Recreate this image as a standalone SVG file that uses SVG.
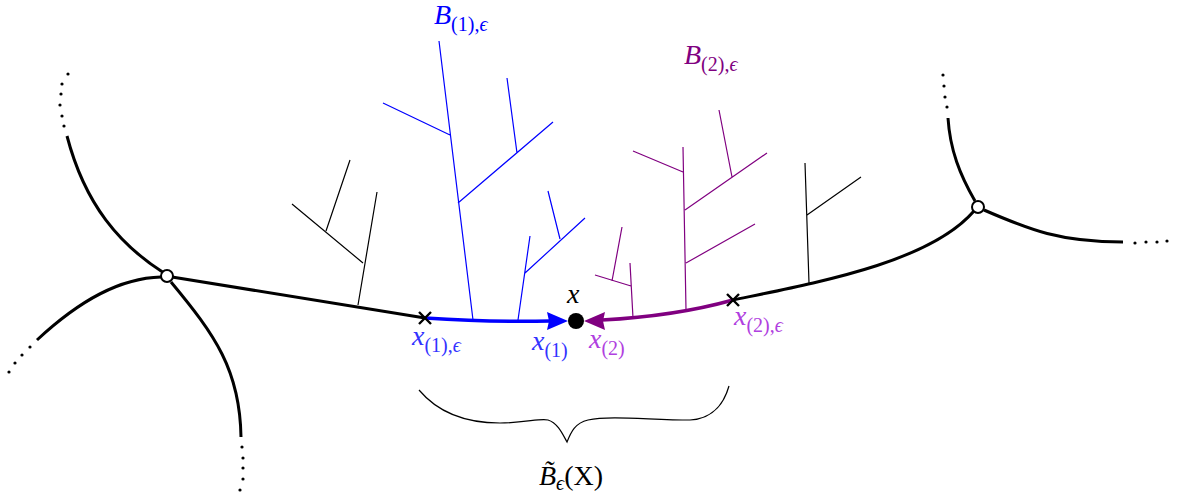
<svg xmlns="http://www.w3.org/2000/svg" width="1181" height="499" viewBox="0 0 1181 499">
<style>
.thick{fill:none;stroke:#000;stroke-width:3;stroke-linecap:butt}
.thin{fill:none;stroke-width:1.2}
.tb{stroke:#000}
.tbl{stroke:#0000ff}
.tv{stroke:#800080}
.dot{fill:#000}
text{font-family:"Liberation Serif","DejaVu Serif",serif}
.m{font-style:italic}
.r{font-style:normal}
.cross{stroke:#000;stroke-width:2.4}
</style>
<rect width="1181" height="499" fill="#fff"/>
<g id="connectors">
<path class="thick" d="M164,273 C120,245 85,205 67,136"/>
<path class="thick" d="M161,277 C120,278 80,300 37,340"/>
<path class="thick" d="M171,282 C215,335 240,370 241,437"/>
<path class="thick" d="M172,277 L425,318"/>
<path class="thick" d="M733,300 C820,282 930,262 974,211"/>
<path class="thick" d="M975,201 C960,175 950,150 948,118"/>
<path class="thick" d="M984,210 C1030,230 1060,242 1123,242"/>
<path fill="none" stroke="#0000ff" stroke-width="3.5" d="M425,318 C470,321 510,322 550,321"/>
<polygon fill="#0000ff" points="568,321 547,312 549,321 547,330"/>
<path fill="none" stroke="#800080" stroke-width="3.5" d="M733,300 C690,312 640,318 602,320"/>
<polygon fill="#800080" points="584,321 605,312 603,321 605,330"/>
</g>
<g id="dots">
<circle class="dot" cx="68" cy="74" r="1.6"/><circle class="dot" cx="62" cy="84" r="1.6"/><circle class="dot" cx="61" cy="94" r="1.6"/><circle class="dot" cx="60" cy="105" r="1.6"/><circle class="dot" cx="62" cy="116" r="1.6"/><circle class="dot" cx="64" cy="126" r="1.6"/>
<circle class="dot" cx="30" cy="347" r="1.6"/><circle class="dot" cx="22" cy="355" r="1.6"/><circle class="dot" cx="15" cy="363" r="1.6"/><circle class="dot" cx="9" cy="372" r="1.6"/>
<circle class="dot" cx="242" cy="447" r="1.6"/><circle class="dot" cx="243" cy="458" r="1.6"/><circle class="dot" cx="243" cy="468" r="1.6"/><circle class="dot" cx="243" cy="479" r="1.6"/><circle class="dot" cx="240" cy="490" r="1.6"/>
<circle class="dot" cx="943" cy="75" r="1.6"/><circle class="dot" cx="944" cy="86" r="1.6"/><circle class="dot" cx="945" cy="97" r="1.6"/><circle class="dot" cx="947" cy="107" r="1.6"/>
<circle class="dot" cx="1135" cy="243" r="1.6"/><circle class="dot" cx="1146" cy="242" r="1.6"/><circle class="dot" cx="1157" cy="242" r="1.6"/><circle class="dot" cx="1167" cy="241" r="1.6"/>
</g>
<g id="tree-black-left" class="thin tb">
<path d="M358,305 L377,192 M363,263 L292,204 M326,231 L350,160"/>
</g>
<g id="tree-blue-big" class="thin tbl">
<path d="M473,320 L439,41 M450,135 L383,103 M458,203 L553,122 M517,153 L507,78"/>
</g>
<g id="tree-blue-small" class="thin tbl">
<path d="M518,320 L530,236 M525,273 L585,218 M560,239 L548,191"/>
</g>
<g id="tree-violet-small" class="thin tv">
<path d="M633,318 L630,263 M631,286 L595,275 M612,281 L622,227"/>
</g>
<g id="tree-violet-big" class="thin tv">
<path d="M686,310 L683,147 M683,172 L633,151 M685,210 L767,153 M732,177 L719,110 M686,263 L755,224"/>
</g>
<g id="tree-black-right" class="thin tb">
<path d="M809,283 L805,163 M807,215 L861,177"/>
</g>
<g id="vertex-left"><circle cx="167" cy="276" r="6" fill="#fff" stroke="#000" stroke-width="2"/></g>
<g id="vertex-right"><circle cx="978" cy="207" r="6" fill="#fff" stroke="#000" stroke-width="2"/></g>
<g id="mark-x1e"><path class="cross" d="M419,312 L431,324 M431,312 L419,324"/></g>
<g id="mark-x2e"><path class="cross" d="M727,294 L739,306 M739,294 L727,306"/></g>
<g id="node-x"><circle cx="576" cy="321" r="8" fill="#000"/></g>
<g id="brace"><path fill="none" stroke="#000" stroke-width="1.2" d="M419,390 C440,415 470,423 500,423 C525,423 540,418 548,420 C558,423 563,435 567,442 C571,432 575,423 588,420 C610,415 650,420 690,420 C715,419 725,400 729,386"/></g>
<g id="labels">
<text class="m" x="567" y="303" font-size="28" fill="#000">x</text>
<text class="m" x="412" y="345" font-size="28" fill="#3333ff">x<tspan class="r" font-size="20" dy="7">(1),</tspan><tspan font-size="20">ϵ</tspan></text>
<text class="m" x="532" y="350" font-size="28" fill="#3333ff">x<tspan class="r" font-size="20" dy="7">(1)</tspan></text>
<text class="m" x="589" y="348" font-size="28" fill="#b040e0">x<tspan class="r" font-size="20" dy="7">(2)</tspan></text>
<text class="m" x="734" y="325" font-size="28" fill="#b040e0">x<tspan class="r" font-size="20" dy="7">(2),</tspan><tspan font-size="20">ϵ</tspan></text>
<text class="m" x="434" y="24" font-size="28" fill="#0000ff">B<tspan class="r" font-size="20" dy="7">(1),</tspan><tspan font-size="20">ϵ</tspan></text>
<text class="m" x="684" y="64" font-size="28" fill="#800080">B<tspan class="r" font-size="20" dy="7">(2),</tspan><tspan font-size="20">ϵ</tspan></text>
<text class="m" x="539" y="485" font-size="28" fill="#000">B̃<tspan font-size="20" dy="5">ϵ</tspan><tspan class="r" font-size="28" dy="-5">(X)</tspan></text>
</g>
</svg>
